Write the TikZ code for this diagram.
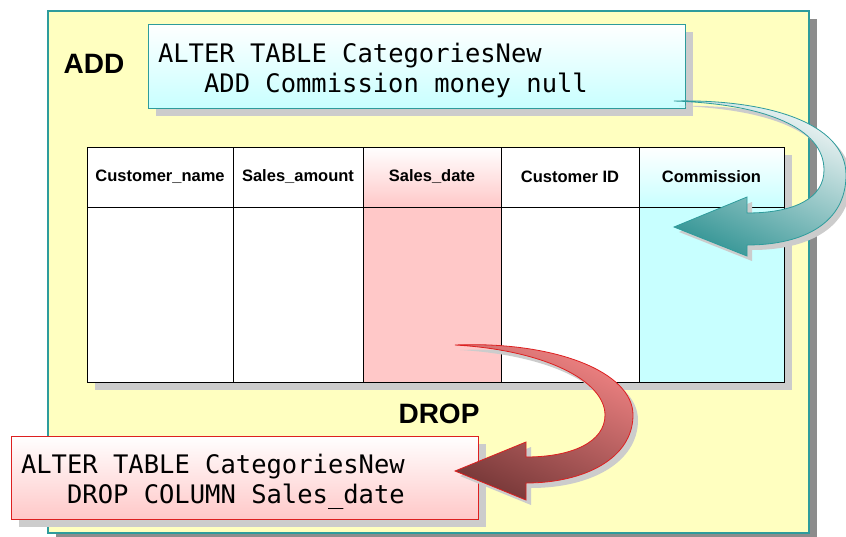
\documentclass[tikz,border=0pt]{standalone}
\usepackage{fontspec}
\setmainfont{Liberation Sans}
\newfontfamily\codefont{DejaVu Sans Mono}
\usepackage{tikz}
\usetikzlibrary{positioning, shadows}

\definecolor{panelyellow}{HTML}{FFFFC0}
\definecolor{tealline}{HTML}{2E9C9C}
\definecolor{addcyan}{HTML}{C8FFFF}
\definecolor{droppink}{HTML}{FFC8C8}
\definecolor{dropred}{HTML}{DD2020}
\definecolor{boxshade}{HTML}{CCCCCC}
\definecolor{arrowteal}{HTML}{3A9898}
\definecolor{arrowlight}{HTML}{F2F6F6}
\definecolor{arrowpink}{HTML}{F28484}
\definecolor{arrowmid}{HTML}{E45E5E}
\definecolor{arrowdark}{HTML}{7A3A3A}

% monospaced font with full-width spaces
\newcommand\codesize{\codefont\fontsize{25.5}{30}\selectfont
    \fontdimen2\font=0.602em \fontdimen3\font=0pt \fontdimen4\font=0pt}

\begin{document}
\begin{tikzpicture}[x=1pt, y=-1pt,
    panel/.style={draw=tealline, line width=1.2pt, fill=panelyellow, minimum width=761pt, minimum height=522pt,
        drop shadow={shadow xshift=8pt, shadow yshift=-8pt, fill=black!45, opacity=1}},
    codebox/.style={line width=1pt, inner xsep=10pt, align=flush left, font=\codesize, text height=28pt,
        drop shadow={shadow xshift=8pt, shadow yshift=-8pt, fill=boxshade, opacity=1}},
    biglabel/.style={font=\bfseries\fontsize{28}{34}\selectfont},
    head/.style={draw, line width=0.8pt, minimum height=60pt, fill=white, font=\bfseries\fontsize{16.5}{20}\selectfont},
    cell/.style={draw, line width=0.8pt, minimum height=175pt, fill=white},
    addarrow/.style={draw=tealline, line width=0.8pt, top color=arrowlight, bottom color=arrowteal, shading angle=-25,
        drop shadow={shadow xshift=5pt, shadow yshift=-5pt, fill=boxshade, opacity=1}},
    droparrow/.style={draw=dropred, line width=0.8pt, top color=arrowpink, middle color=arrowmid,
        bottom color=arrowdark, shading angle=-25,
        drop shadow={shadow xshift=5pt, shadow yshift=-5pt, fill=boxshade, opacity=1}},
]
\useasboundingbox (0,0) rectangle (846,536);

% Background panel
\node[panel] (bg) at (428.5,272) {};

% Labels
\node[biglabel] (addlbl) at (94,64) {ADD};
\node[biglabel] (droplbl) at (439,414) {DROP};

% ADD statement
\node[codebox, draw=tealline, top color=white, bottom color=addcyan,
    text width=517pt, minimum height=84pt] (addsql) at (416.5,66)
    {ALTER TABLE CategoriesNew\\\hphantom{xxx}ADD Commission money null};

% Table
\fill[boxshade] (95,155) rectangle (792,390);
\node[head, minimum width=146pt] (hname) at (160,177) {Customer\_name};
\node[head, minimum width=130pt] (hamount) at (298,177) {Sales\_amount};
\node[head, minimum width=138pt, top color=white, bottom color=droppink] (hdate) at (432,177) {Sales\_date};
\node[head, minimum width=138pt] (hid) at (570,177) {Customer ID};
\node[head, minimum width=145pt, top color=white, bottom color=addcyan] (hcomm) at (711.5,177) {Commission};

\node[cell, minimum width=146pt] (cname) at (160,294.5) {};
\node[cell, minimum width=130pt] (camount) at (298,294.5) {};
\node[cell, minimum width=138pt, fill=droppink] (cdate) at (432,294.5) {};
\node[cell, minimum width=138pt] (cid) at (570,294.5) {};
\node[cell, minimum width=145pt, fill=addcyan] (ccomm) at (711.5,294.5) {};

% DROP statement
\node[codebox, draw=dropred, top color=white, bottom color=droppink,
    text width=447pt, minimum height=83pt] (dropsql) at (244.5,477.5)
    {ALTER TABLE CategoriesNew\\\hphantom{xxx}DROP COLUMN Sales\_date};

% Curved arrows
\path[addarrow] (674,101) .. controls (765,99) and (846,122) .. (846,175)
    .. controls (846,222) and (805,245) .. (747,245)
    -- (747,256) -- (674,227) -- (747,197) -- (747,213)
    .. controls (795,213) and (824,198) .. (824,170)
    .. controls (824,128) and (765,104) .. (674,101) -- cycle;
\path[droparrow] (455,345) .. controls (555,341) and (633,372) .. (633,415)
    .. controls (633,458) and (585,483) .. (526,483)
    -- (526,500) -- (455,471) -- (526,442) -- (526,457)
    .. controls (572,457) and (605,442) .. (605,415)
    .. controls (605,381) and (545,350) .. (455,345) -- cycle;
\end{tikzpicture}
\end{document}
